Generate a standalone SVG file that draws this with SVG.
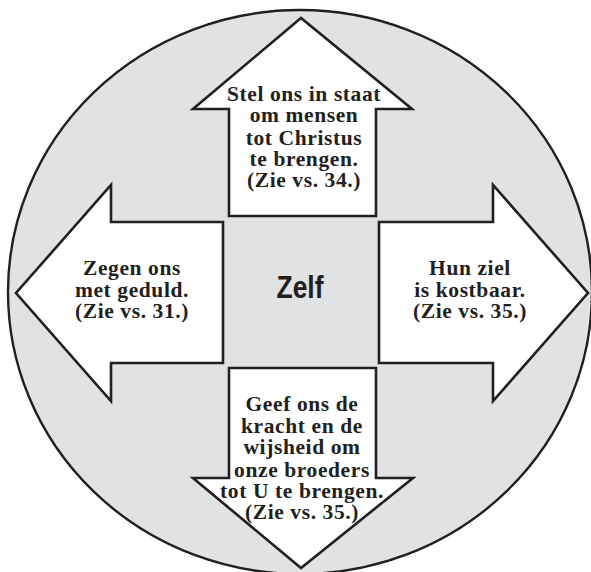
<svg xmlns="http://www.w3.org/2000/svg" width="591" height="572" viewBox="0 0 591 572">
<style>
.bg{fill:#e1e2e4;stroke:#231f20;stroke-width:2.4}
.arr{fill:#ffffff;stroke:#231f20;stroke-width:2.6;stroke-linejoin:miter}
.t{font-family:"Liberation Serif","DejaVu Serif",serif;font-weight:bold;font-size:21.5px;letter-spacing:0.6px;fill:#231f20;text-anchor:middle}
.z{font-family:"Liberation Sans","DejaVu Sans",sans-serif;font-weight:bold;font-size:32px;fill:#231f20;text-anchor:middle}
</style>
<rect width="591" height="572" fill="#ffffff"/>
<g id="circle"><ellipse class="bg" cx="300" cy="292" rx="292" ry="282"/></g>
<g id="connectors"></g>
<g id="up">
<polygon class="arr" points="229,216 229,109 193,109 301,18 412,109 376,109 376,216"/>
<text class="t" x="304" y="100.5">Stel ons in staat</text>
<text class="t" x="304" y="122">om mensen</text>
<text class="t" x="304" y="144.5">tot Christus</text>
<text class="t" x="304" y="166">te brengen.</text>
<text class="t" x="304" y="187">(Zie vs. 34.)</text>
</g>
<g id="left">
<polygon class="arr" points="223,222 111,222 111,185 16,293 111,401 111,363 223,363"/>
<text class="t" x="132" y="274.5">Zegen ons</text>
<text class="t" x="132" y="296.5">met geduld.</text>
<text class="t" x="132" y="317.5">(Zie vs. 31.)</text>
</g>
<g id="right">
<polygon class="arr" points="379,222 493,222 493,185 588,293 493,401 493,363 379,363"/>
<text class="t" x="470" y="274.5">Hun ziel</text>
<text class="t" x="470" y="296.5">is kostbaar.</text>
<text class="t" x="470" y="317.5">(Zie vs. 35.)</text>
</g>
<g id="down">
<polygon class="arr" points="229,368 376,368 376,478 413,478 301,568 193,478 229,478"/>
<text class="t" x="302" y="411">Geef ons de</text>
<text class="t" x="302" y="432.5">kracht en de</text>
<text class="t" x="302" y="454">wijsheid om</text>
<text class="t" x="302" y="476.5">onze broeders</text>
<text class="t" x="302" y="497.5">tot U te brengen.</text>
<text class="t" x="302" y="518.5">(Zie vs. 35.)</text>
</g>
<g id="zelf"><text class="z" x="300" y="297.5" textLength="47" lengthAdjust="spacingAndGlyphs">Zelf</text></g>
</svg>
